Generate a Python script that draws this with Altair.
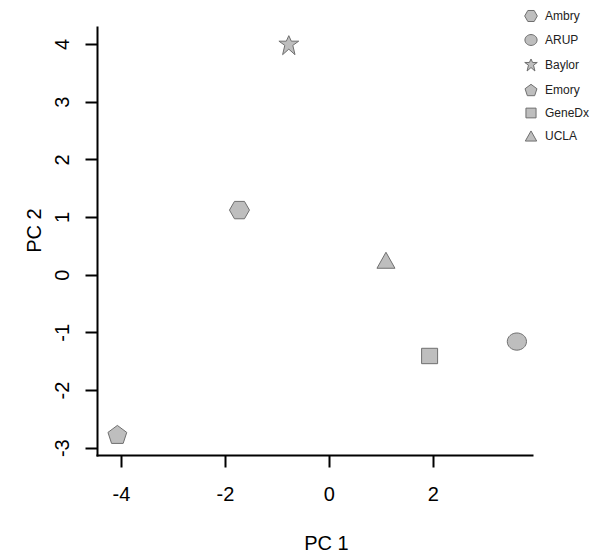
import altair as alt
import pandas as pd

labs = ["Ambry", "ARUP", "Baylor", "Emory", "GeneDx", "UCLA"]
pc1 = [-1.72, 3.62, -0.77, -4.07, 1.94, 1.10]
pc2 = [1.12, -1.16, 3.98, -2.77, -1.41, 0.25]

df = pd.DataFrame({"lab": labs, "pc1": pc1, "pc2": pc2})

# symbol shapes (unit space), one per lab
shape_paths = [
    "M1,0L0.5,0.87L-0.5,0.87L-1,0L-0.5,-0.87L0.5,-0.87Z",  # hexagon
    "M0.96,0A0.96,0.86 0 1,1 -0.96,0A0.96,0.86 0 1,1 0.96,0Z",  # circle
    "M0,-0.95L0.25,-0.4L0.99,-0.4L0.4,0.02L0.62,0.95L0,0.4L-0.62,0.95L-0.4,0.02L-0.99,-0.4L-0.25,-0.4Z",  # star
    "M0,-0.9L0.94,-0.2L0.58,0.9L-0.58,0.9L-0.94,-0.2Z",  # pentagon
    "M-0.8,-0.77L0.8,-0.77L0.8,0.77L-0.8,0.77Z",  # square
    "M0,-0.8L0.9,0.8L-0.9,0.8Z",  # triangle
]

FONT = "Liberation Sans"
LBL = "replace(datum.label, '\u2212', '-')"

chart = alt.Chart(df).mark_point(
    filled=False, opacity=1, size=400
).encode(
    x=alt.X("pc1:Q", scale=alt.Scale(domain=[-4.462, 3.911], nice=False, zero=False),
            axis=alt.Axis(values=[-4, -2, 0, 2], title="PC 1", labelBaseline="alphabetic",
                          labelPadding=33, titleX=229, titleY=94, titleAlign="center",
                          titleBaseline="alphabetic", labelExpr=LBL)),
    y=alt.Y("pc2:Q", scale=alt.Scale(domain=[-3.127, 4.295], nice=False, zero=False),
            axis=alt.Axis(values=[-3, -2, -1, 0, 1, 2, 3, 4], title="PC 2", labelAngle=270,
                          labelAlign="center", labelBaseline="alphabetic", labelPadding=17,
                          titleAngle=270, titleX=-57, titleY=203, titleAlign="center",
                          titleBaseline="alphabetic", labelExpr=LBL)),
    shape=alt.Shape("lab:N", scale=alt.Scale(domain=labs, range=shape_paths),
                    legend=alt.Legend(title=None, orient="none", legendX=427, legendY=-18,
                                      symbolSize=160, symbolStrokeWidth=1,
                                      symbolOpacity=1,
                                      labelFontSize=12, labelFont=FONT, labelColor="#222222",
                                      labelOffset=7, rowPadding=8, padding=0)),
    fill=alt.value("#bebebe"),
    stroke=alt.value("#6f6f6f"),
    strokeWidth=alt.value(1),
).properties(
    width=435, height=428,
    autosize=alt.AutoSizeParams(type="none"),
    padding={"left": 89, "top": 19, "right": 58, "bottom": 98},
).configure_view(stroke=None).configure_axis(
    grid=False, domainColor="black", domainWidth=2, domainCap="square", tickColor="black",
    tickWidth=2, tickSize=12, labelFontSize=20, labelFont=FONT, labelColor="black",
    titleFontSize=20, titleFont=FONT, titleFontWeight="normal", titleColor="black",
    labelFlush=False, labelOverlap=False,
)

chart.save("out.html", embed_options={"renderer": "svg", "actions": False})
